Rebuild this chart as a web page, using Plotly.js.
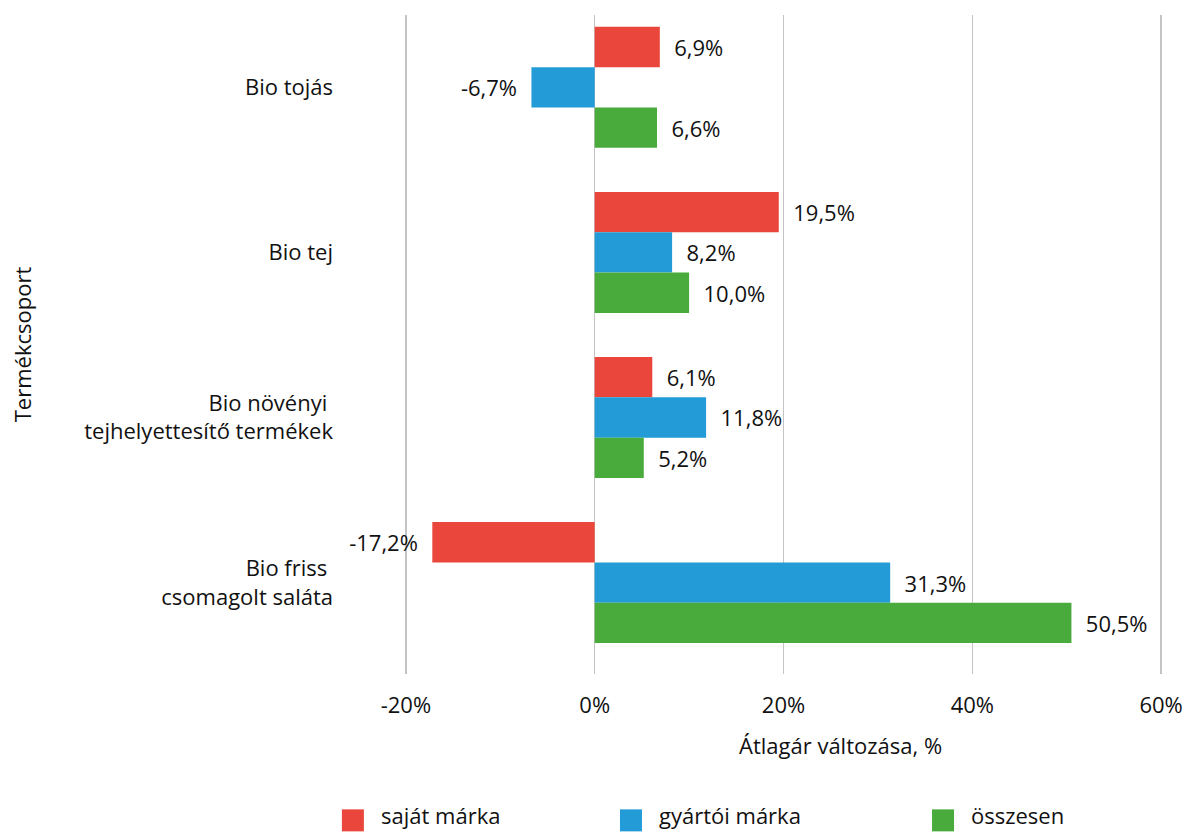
<!DOCTYPE html>
<html>
<head>
<meta charset="utf-8">
<script src="https://cdn.plot.ly/plotly-3.0.1.min.js"></script>
<style>html,body{margin:0;padding:0;background:#fff;}#chart{width:1194px;height:833px;}</style>
</head>
<body>
<div id="chart"></div>
<script>
const categories = ["Bio tojás", "Bio tej", "Bio növényi\u00a0<br>tejhelyettesítő termékek", "Bio friss\u00a0<br>csomagolt saláta"];
const seriesNames = ["saját márka", "gyártói márka", "összesen"];
const sajatMarka = [6.9, 19.5, 6.1, -17.2];
const gyartoiMarka = [-6.7, 8.2, 11.8, 31.3];
const osszesen = [6.6, 10.0, 5.2, 50.5];
const colors = ["#EA463B", "#229BD6", "#4AAB3D"];
const tickVals = [-20, 0, 20, 40, 60];
const tickText = ["-20%", "0%", "20%", "40%", "60%"];
const xTitle = "Átlagár változása, %";
const yTitle = "Termékcsoport";

const FONT = '"Open Sans", "Noto Sans", sans-serif';
const FS = 22;

function fmt(v) {
  const s = v.toFixed(1).replace('.', ',') + '%';
  return v < 0 ? s + '\u00a0\u00a0' : '\u00a0\u00a0' + s;
}

const seriesValues = [sajatMarka, gyartoiMarka, osszesen];
const traces = seriesValues.map((vals, i) => ({
  type: 'bar',
  orientation: 'h',
  name: seriesNames[i],
  y: categories,
  x: vals,
  marker: {color: colors[i]},
  text: vals.map(fmt),
  textposition: 'outside',
  cliponaxis: false,
  textfont: {size: FS, color: '#111', family: FONT},
  showlegend: false
}));

// plot geometry (pixels)
const L = 404.1, W = 758.8, T = 15, H = 658.7;
const px = x => (x - L) / W;
const py = y => (T + H - y) / H;

// legend (custom, larger swatches)
const legendSwatchX = [342, 620, 932];
const shapes = [], annotations = [];
seriesNames.forEach((n, i) => {
  shapes.push({type: 'rect', xref: 'paper', yref: 'paper',
    x0: px(legendSwatchX[i]), x1: px(legendSwatchX[i] + 22),
    y0: py(831), y1: py(809), fillcolor: colors[i], line: {width: 0}});
  annotations.push({xref: 'paper', yref: 'paper', x: px(legendSwatchX[i] + 38), y: py(815),
    xanchor: 'left', yanchor: 'middle', showarrow: false, text: n,
    font: {family: FONT, size: FS, color: '#111'}, borderpad: 0});
});
annotations.push({xref: 'paper', yref: 'paper', x: px(840), y: py(745),
  xanchor: 'center', yanchor: 'middle', showarrow: false, text: xTitle,
  font: {family: FONT, size: FS, color: '#111'}});

const layout = {
  width: 1194, height: 833,
  margin: {l: L, r: 1194 - L - W, t: T, b: 833 - T - H, autoexpand: false},
  font: {family: FONT, size: FS, color: '#111'},
  barmode: 'group',
  bargap: 0.267,
  bargroupgap: 0,
  paper_bgcolor: '#fff', plot_bgcolor: '#fff',
  showlegend: false,
  xaxis: {
    range: [-20.2, 60.2],
    tickvals: tickVals, ticktext: tickText,
    showgrid: true, gridcolor: '#c4c4c4', gridwidth: 1.3,
    zeroline: true, zerolinecolor: '#c4c4c4', zerolinewidth: 1.3,
    showline: false, ticks: '',
    ticklabelstandoff: 16,
    automargin: false
  },
  yaxis: {
    range: [3.554, -0.438],
    showgrid: false, zeroline: false, showline: false, ticks: '',
    ticklabelstandoff: 70,
    automargin: false,
    title: {text: yTitle, font: {size: FS}, standoff: 46}
  },
  shapes: shapes,
  annotations: annotations
};

Plotly.newPlot('chart', traces, layout, {displayModeBar: false, staticPlot: true});
</script>
</body>
</html>
